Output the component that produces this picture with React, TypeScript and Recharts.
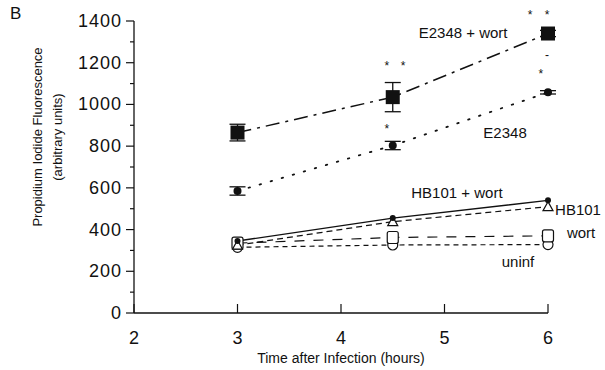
import { ErrorBar, Line, LineChart, ReferenceDot, XAxis, YAxis } from "recharts";

// hours after infection
const hours = [3, 4.5, 6];

// series values (arbitrary units)
const e2348Wort = [865, 1035, 1340];
const e2348WortErr = [40, 70, 15];
const e2348 = [585, 803, 1058];
const e2348Err = [20, 20, 8];
const hb101Wort = [345, 455, 540];
const hb101 = [325, 438, 510];
const wortOnly = [335, 362, 370];
const uninf = [315, 326, 328];

const xTicks = [2, 3, 4, 5, 6];
const yTicks = [0, 100, 200, 300, 400, 500, 600, 700, 800, 900, 1000, 1100, 1200, 1300, 1400];

// series names placed next to the lines (data coordinates)
const seriesLabels = ["E2348  +  wort", "E2348", "HB101  +  wort", "HB101", "wort", "uninf"];
const seriesLabelX = [5.18, 5.585, 5.12, 6.29, 6.32, 5.71];
const seriesLabelY = [1342, 863, 575, 494, 384, 245];

// significance marks
const markText = ["*", "*", "*", "*", "*", "*", "-"];
const markX = [4.444, 4.444, 4.599, 5.826, 5.99, 5.93, 5.99];
const markY = [897, 1199, 1199, 1443, 1443, 1160, 1251];

const data = hours.map((h, i) => ({
  h,
  e2348Wort: e2348Wort[i],
  e2348WortErr: e2348WortErr[i],
  e2348: e2348[i],
  e2348Err: e2348Err[i],
  hb101Wort: hb101Wort[i],
  hb101: hb101[i],
  wortOnly: wortOnly[i],
  uninf: uninf[i],
}));

const ink = "#111";
const font = "'Liberation Sans', Arial, Helvetica, sans-serif";

const filledSquare = (p: any) => (
  <rect key={`fs-${p.index}`} x={p.cx - 7} y={p.cy - 7} width={14} height={14} fill={ink} />
);
const filledCircle = (p: any) => (
  <circle key={`fc-${p.index}`} cx={p.cx} cy={p.cy} r={4} fill={ink} />
);
const smallCircle = (p: any) => (
  <circle key={`sc-${p.index}`} cx={p.cx} cy={p.cy} r={3} fill={ink} />
);
const openTriangle = (p: any) => (
  <path
    key={`ot-${p.index}`}
    d={`M${p.cx},${p.cy - 5} L${p.cx + 5},${p.cy + 4} L${p.cx - 5},${p.cy + 4} Z`}
    fill="#fff"
    stroke={ink}
    strokeWidth={1.2}
  />
);
const openSquare = (p: any) => (
  <rect
    key={`os-${p.index}`}
    x={p.cx - 5.5}
    y={p.cy - 6}
    width={11}
    height={12}
    rx={2}
    fill="#fff"
    stroke={ink}
    strokeWidth={1.2}
  />
);
const openCircle = (p: any) => (
  <circle key={`oc-${p.index}`} cx={p.cx} cy={p.cy} r={5} fill="#fff" stroke={ink} strokeWidth={1.2} />
);

function YTick({ x, y, payload }: any) {
  const major = payload.value % 200 === 0;
  return (
    <g>
      <line x1={x - (major ? 8 : 4)} x2={x} y1={y} y2={y} stroke={ink} strokeWidth={1.2} />
      {major && (
        <text x={x - 12} y={y} dy={6} textAnchor="end" fontSize={18} letterSpacing={1} fill={ink}>
          {payload.value}
        </text>
      )}
    </g>
  );
}

function XTick({ x, y, payload }: any) {
  return (
    <g>
      <line x1={x} x2={x} y1={y} y2={y - 9} stroke={ink} strokeWidth={1.2} />
      <text x={x} y={y} dy={31} textAnchor="middle" fontSize={18} fill={ink}>
        {payload.value}
      </text>
    </g>
  );
}

function YTitle({ viewBox }: any) {
  const right = viewBox.x + viewBox.width;
  const cy = viewBox.y + viewBox.height / 2 - 30;
  return (
    <g fontSize={13} fill={ink}>
      <text x={right - 97} y={cy} textAnchor="middle" dominantBaseline="central" transform={`rotate(-90 ${right - 97} ${cy})`}>
        Propidium Iodide Fluorescence
      </text>
      <text x={right - 77} y={cy} textAnchor="middle" dominantBaseline="central" transform={`rotate(-90 ${right - 77} ${cy})`}>
        (arbitrary  units)
      </text>
    </g>
  );
}

function XTitle({ viewBox }: any) {
  const cx = viewBox.x + viewBox.width / 2;
  return (
    <text x={cx} y={viewBox.y + 50} textAnchor="middle" fontSize={14} fill={ink}>
      Time after Infection (hours)
    </text>
  );
}

export default function App() {
  return (
    <div style={{ position: "absolute", left: 0, top: 0, width: 605, height: 370, background: "#fff" }}>
      <div style={{ position: "absolute", left: 10, top: 4, fontFamily: font, fontSize: 17, color: ink }}>B</div>
      <LineChart
        width={605}
        height={370}
        data={data}
        margin={{ top: 21, right: 57, bottom: 7, left: 74 }}
        style={{ fontFamily: font }}
      >
        <XAxis
          dataKey="h"
          type="number"
          domain={[2, 6]}
          ticks={xTicks}
          tickSize={0}
          tickMargin={0}
          tickLine={false}
          tick={<XTick />}
          height={50}
          stroke={ink}
          strokeWidth={1.3}
          label={{ content: <XTitle /> }}
        />
        <YAxis
          type="number"
          domain={[0, 1400]}
          ticks={yTicks}
          interval={0}
          tickSize={0}
          tickMargin={0}
          tickLine={false}
          tick={<YTick />}
          width={60}
          stroke={ink}
          strokeWidth={1.3}
          label={{ content: <YTitle /> }}
        />
        <Line
          dataKey="uninf"
          stroke={ink}
          strokeWidth={1.2}
          strokeDasharray="5 4"
          dot={openCircle}
          isAnimationActive={false}
        />
        <Line
          dataKey="wortOnly"
          stroke={ink}
          strokeWidth={1.2}
          strokeDasharray="10 9"
          dot={openSquare}
          isAnimationActive={false}
        />
        <Line
          dataKey="hb101"
          stroke={ink}
          strokeWidth={1.2}
          strokeDasharray="6 4"
          dot={openTriangle}
          isAnimationActive={false}
        />
        <Line
          dataKey="hb101Wort"
          stroke={ink}
          strokeWidth={1.4}
          dot={smallCircle}
          isAnimationActive={false}
        />
        <Line
          dataKey="e2348"
          stroke={ink}
          strokeWidth={1.8}
          strokeDasharray="1.5 10"
          strokeLinecap="round"
          dot={filledCircle}
          isAnimationActive={false}
        >
          <ErrorBar dataKey="e2348Err" width={8} stroke={ink} strokeWidth={1.3} direction="y" />
        </Line>
        <Line
          dataKey="e2348Wort"
          stroke={ink}
          strokeWidth={1.5}
          strokeDasharray="14 6 3 6"
          dot={filledSquare}
          isAnimationActive={false}
        >
          <ErrorBar dataKey="e2348WortErr" width={8} stroke={ink} strokeWidth={1.3} direction="y" />
        </Line>
        {seriesLabels.map((t, i) => (
          <ReferenceDot
            key={`lab-${t}`}
            x={seriesLabelX[i]}
            y={seriesLabelY[i]}
            r={0}
            fill="none"
            stroke="none"
            ifOverflow="visible"
            label={{ value: t, position: "center", fontSize: 15, fill: ink, fontFamily: font }}
          />
        ))}
        {markText.map((t, i) => (
          <ReferenceDot
            key={`mark-${i}`}
            x={markX[i]}
            y={markY[i]}
            r={0}
            fill="none"
            stroke="none"
            ifOverflow="visible"
            label={{ value: t, position: "center", fontSize: 12, fill: ink, fontFamily: font, dy: 3 }}
          />
        ))}
      </LineChart>
    </div>
  );
}
